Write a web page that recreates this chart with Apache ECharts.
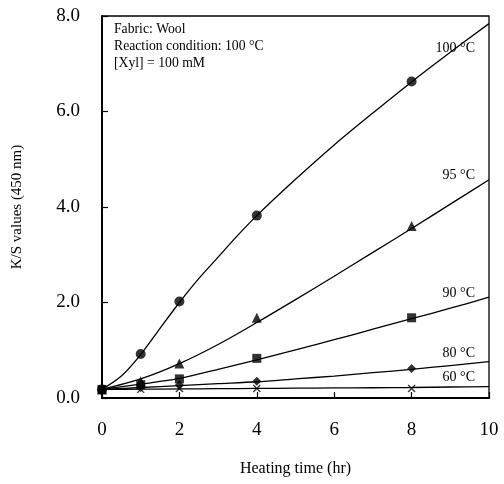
<!DOCTYPE html>
<html><head><meta charset="utf-8">
<script src="https://cdn.jsdelivr.net/npm/echarts@6/dist/echarts.min.js"></script>
<style>html,body{margin:0;padding:0;background:#fff}#c{width:504px;height:484px}</style>
</head><body><div id="c"></div>
<script>
// Measured points [time (hr), K/S]
var times = [0, 1, 2, 4, 8];
var ks100 = [0.18, 0.92, 2.02, 3.82, 6.63];
var ks95  = [0.18, 0.35, 0.72, 1.68, 3.60];
var ks90  = [0.18, 0.28, 0.40, 0.83, 1.68];
var ks80  = [0.18, 0.22, 0.27, 0.35, 0.62];
var ks60  = [0.18, 0.18, 0.20, 0.20, 0.20];
// Fitted curves
var fitT100 = [0, 0.5, 1, 1.5, 2, 2.5, 3, 3.5, 4, 5, 6, 7, 8, 9, 10];
var fit100  = [0.18, 0.46, 0.91, 1.46, 2.00, 2.50, 2.95, 3.40, 3.82, 4.58, 5.30, 5.97, 6.62, 7.24, 7.84];
var fitT   = [0, 1, 2, 3, 4, 5, 6, 7, 8, 9, 10];
var fit95  = [0.18, 0.40, 0.72, 1.12, 1.58, 2.06, 2.55, 3.05, 3.55, 4.06, 4.57];
var fit90  = [0.18, 0.29, 0.41, 0.60, 0.80, 1.01, 1.22, 1.44, 1.66, 1.88, 2.11];
var fit80  = [0.18, 0.22, 0.26, 0.30, 0.34, 0.40, 0.46, 0.53, 0.60, 0.68, 0.76];
var fit60  = [0.18, 0.185, 0.19, 0.195, 0.20, 0.205, 0.21, 0.215, 0.22, 0.23, 0.24];
var xTicks = [0, 2, 4, 6, 8, 10];
var yTicks = [0, 2, 4, 6, 8];
var curveLabels = ['100 °C', '95 °C', '90 °C', '80 °C', '60 °C'];
var notes = ['Fabric: Wool', 'Reaction condition: 100 °C', '[Xyl] = 100 mM'];

function pairs(xs, ys){ return xs.map(function(x,i){return [x, ys[i]];}); }
var font = 'Liberation Serif';
var crossPath = 'path://M0,0L10,10M10,0L0,10';

function fitLine(xs, ys){
  return {type:'line', data:pairs(xs,ys), smooth:0.3, showSymbol:false, symbol:'none',
    lineStyle:{color:'#000', width:1.3}, z:2, silent:true};
}
function pts(ys, sym, size){
  return {type:'scatter', data:pairs(times, ys), symbol:sym, symbolSize:size,
    itemStyle:{color:'#000'}, z:3, silent:true};
}

var chart = echarts.init(document.getElementById('c'));
var g = [];
notes.forEach(function(t,i){
  g.push({type:'text', left:114, top:22 + i*17, style:{text:t, font:'13.7px "'+font+'"', fill:'#000'}});
});
var labelRight = [[475,48],[475,175],[475,293],[475,353],[475,377]];
curveLabels.forEach(function(t,i){
  g.push({type:'text', x:labelRight[i][0], y:labelRight[i][1], style:{text:t, font:'14px "'+font+'"', fill:'#000', textAlign:'right', textVerticalAlign:'middle'}});
});

chart.setOption({
  animation:false,
  backgroundColor:'#fff',
  grid:{left:102, right:15, top:16, bottom:86, show:true, borderColor:'#000', borderWidth:1.3},
  xAxis:{type:'value', min:0, max:10, interval:2, name:'Heating time (hr)', nameLocation:'middle', nameGap:63,
    nameTextStyle:{fontFamily:font, fontSize:16, color:'#000'},
    axisLine:{lineStyle:{color:'#000', width:2}},
    axisTick:{inside:true, length:6, lineStyle:{color:'#000', width:1.2}},
    axisLabel:{fontFamily:font, fontSize:19, color:'#000', margin:23, formatter:function(v){return xTicks.indexOf(v)>=0? String(v):'';}},
    splitLine:{show:false}},
  yAxis:{type:'value', min:0, max:8, interval:2, name:'K/S values (450 nm)', nameLocation:'middle', nameGap:77, nameRotate:90,
    nameTextStyle:{fontFamily:font, fontSize:15, color:'#000'},
    axisLine:{lineStyle:{color:'#000', width:2}},
    axisTick:{inside:true, length:6, lineStyle:{color:'#000', width:1.2}},
    axisLabel:{fontFamily:font, fontSize:19, color:'#000', margin:22, formatter:function(v){return yTicks.indexOf(v)>=0? v.toFixed(1):'';}},
    splitLine:{show:false}},
  graphic:g,
  series:[
    fitLine(fitT100, fit100), fitLine(fitT, fit95), fitLine(fitT, fit90), fitLine(fitT, fit80), fitLine(fitT, fit60),
    {type:'scatter', data:pairs(times, ks60), symbol:crossPath, symbolSize:7, itemStyle:{color:'none', borderColor:'#000', borderWidth:1.3}, z:3, silent:true},
    pts(ks80, 'diamond', 9),
    pts(ks95, 'triangle', 10),
    pts(ks100, 'circle', 10),
    pts(ks90, 'rect', 9)
  ]
});
</script></body></html>
